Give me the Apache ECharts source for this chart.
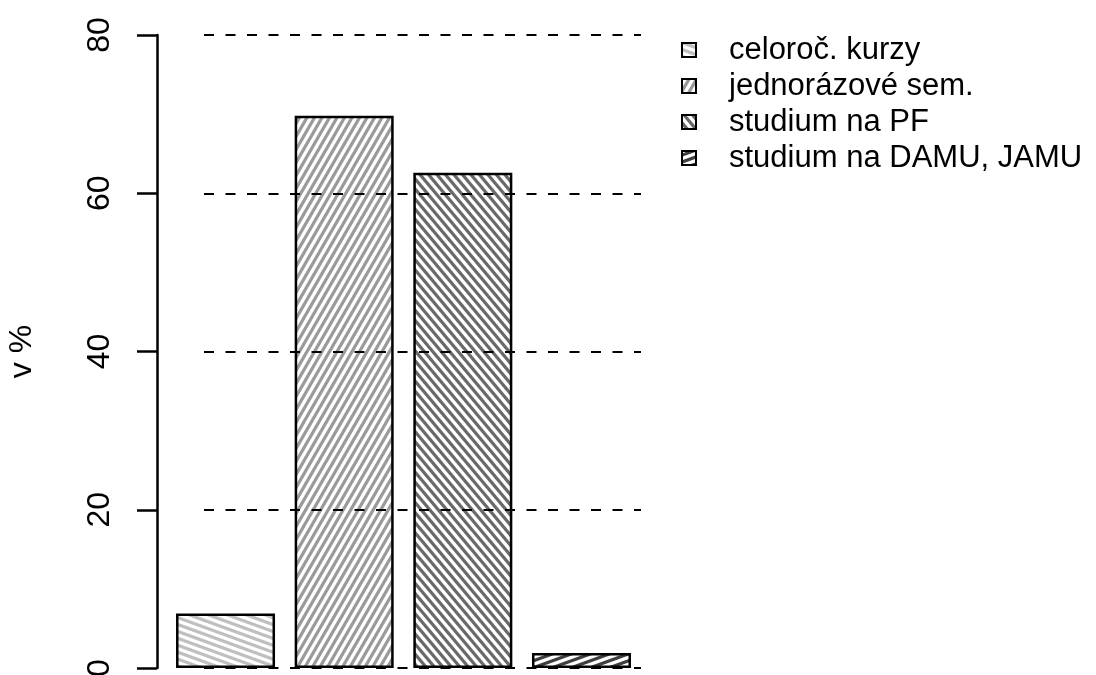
<!DOCTYPE html>
<html><head><meta charset="utf-8">
<script src="https://cdn.jsdelivr.net/npm/echarts@6/dist/echarts.min.js"></script>
<style>html,body{margin:0;padding:0;background:#fff}#c{width:1096px;height:675px}</style>
</head><body><div id="c"></div>
<script>
// ---- data ----
const categories = ['celoroč. kurzy', 'jednorázové sem.', 'studium na PF', 'studium na DAMU, JAMU'];
const values = [6.9, 69.8, 62.6, 1.9];
const yMin = 0, yMax = 80, yStep = 20;
const yName = 'v %';

// ---- hatch styles ----
const hatchAngles = [-20, 60, -50, 20];
const hatchColors = ['#bfbfbf', '#9a9a9a', '#696969', '#3f3f3f'];

function makeHatch(angleDeg, color, spacing, lw) {
  const W = 1096, H = 675;
  const cv = document.createElement('canvas');
  cv.width = W; cv.height = H;
  const ctx = cv.getContext('2d');
  ctx.fillStyle = '#fff'; ctx.fillRect(0, 0, W, H);
  const a = angleDeg * Math.PI / 180;
  const dx = Math.cos(a), dy = -Math.sin(a);
  const nx = Math.sin(a), ny = Math.cos(a);
  const D = Math.hypot(W, H);
  const cx = W / 2, cy = H / 2;
  ctx.strokeStyle = color; ctx.lineWidth = lw;
  for (let k = -D; k <= D; k += spacing) {
    const px = cx + nx * k, py = cy + ny * k;
    ctx.beginPath();
    ctx.moveTo(px - dx * D, py - dy * D);
    ctx.lineTo(px + dx * D, py + dy * D);
    ctx.stroke();
  }
  return { image: cv, repeat: 'no-repeat' };
}

const chart = echarts.init(document.getElementById('c'));
const series = categories.map((name, i) => ({
  type: 'bar',
  name: name,
  xAxisIndex: 0, yAxisIndex: 0,
  barWidth: 99,
  barGap: '-100%',
  data: values.map((v, j) => (j === i ? v : '-')),
  itemStyle: { color: makeHatch(hatchAngles[i], hatchColors[i], 6.5, 3.2), borderColor: '#000', borderWidth: 2.5 },
  z: 2
}));

chart.setOption({
  animation: false,
  backgroundColor: '#fff',
  textStyle: { fontFamily: 'Liberation Sans, Arial, sans-serif', color: '#000' },
  grid: [
    { left: 166.2, right: 1096 - 640.8, top: 35, bottom: 7, containLabel: false, outerBoundsMode: 'none' },
    { left: 204, right: 1096 - 641, top: 35, bottom: 7, containLabel: false, outerBoundsMode: 'none' }
  ],
  xAxis: [
    { type: 'category', data: categories, gridIndex: 0, show: false },
    { type: 'value', gridIndex: 1, show: false, min: 0, max: 1 }
  ],
  yAxis: [
    {
      type: 'value', gridIndex: 0, min: yMin, max: yMax, interval: yStep,
      position: 'left', offset: 9.2,
      name: yName, nameLocation: 'middle', nameGap: 119, nameRotate: 90,
      nameTextStyle: { fontSize: 32, color: '#000' },
      axisLine: { show: true, lineStyle: { color: '#000', width: 2.5 } },
      axisTick: { show: true, length: 20, lineStyle: { color: '#000', width: 2.5 } },
      axisLabel: { rotate: 90, margin: 41, fontSize: 32, color: '#000' },
      splitLine: { show: false }
    },
    {
      type: 'value', gridIndex: 1, min: yMin, max: yMax, interval: yStep, z: 10,
      axisLine: { show: false }, axisTick: { show: false }, axisLabel: { show: false },
      splitLine: { show: true, lineStyle: { color: '#000', width: 2.2, type: [10, 11.5] } }
    }
  ],
  legend: {
    orient: 'vertical', left: 676, top: 29,
    itemWidth: 14, itemHeight: 14, itemGap: 4,
    icon: 'rect',
    itemStyle: { borderColor: '#000', borderWidth: 2 },
    textStyle: { fontSize: 31, color: '#000', lineHeight: 32, padding: [0, 0, 0, 28] },
    data: categories
  },
  series: series
});
</script>
</body></html>
